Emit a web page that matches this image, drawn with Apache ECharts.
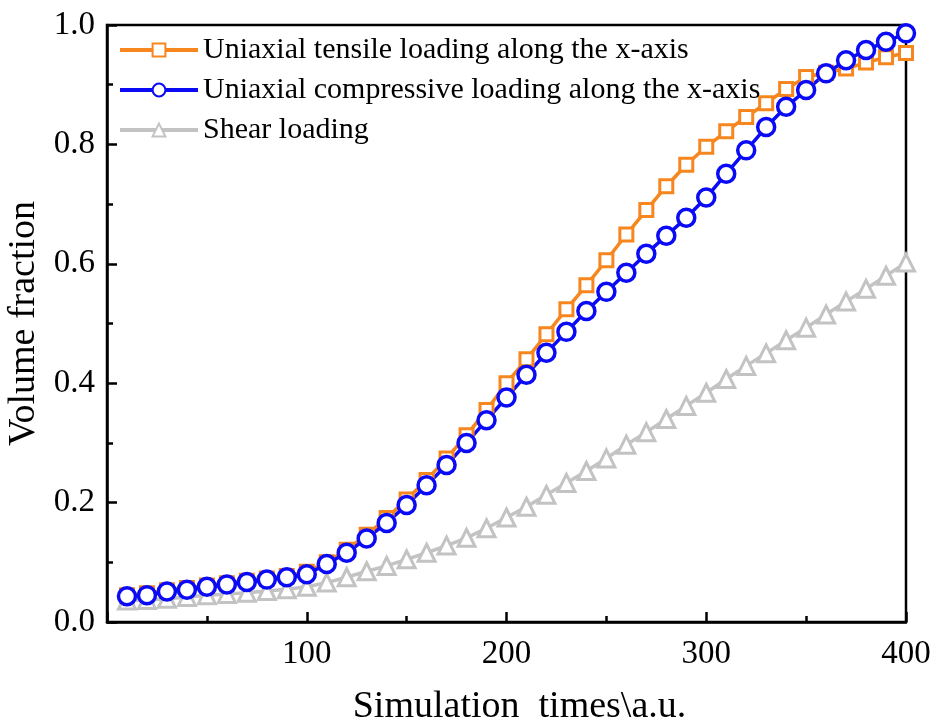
<!DOCTYPE html>
<html>
<head>
<meta charset="utf-8">
<script src="https://cdn.jsdelivr.net/npm/echarts@6/dist/echarts.min.js"></script>
<style>
  html, body { margin: 0; padding: 0; background: #fff; }
  #main { width: 937px; height: 722px; }
</style>
</head>
<body>
<div id="main"></div>
<script>
// simulation times (x), step 10
var times = [10, 20, 30, 40, 50, 60, 70, 80, 90, 100,
             110, 120, 130, 140, 150, 160, 170, 180, 190, 200,
             210, 220, 230, 240, 250, 260, 270, 280, 290, 300,
             310, 320, 330, 340, 350, 360, 370, 380, 390, 400];

// volume fraction
var tensile = [0.045, 0.048, 0.053, 0.057, 0.061, 0.065, 0.069, 0.073, 0.077, 0.084,
               0.100, 0.121, 0.146, 0.174, 0.205, 0.238, 0.274, 0.313, 0.355, 0.400,
               0.440, 0.482, 0.524, 0.564, 0.606, 0.649, 0.690, 0.730, 0.766, 0.796,
               0.822, 0.846, 0.869, 0.893, 0.913, 0.920, 0.927, 0.937, 0.946, 0.953];
var compressive = [0.043, 0.045, 0.051, 0.054, 0.059, 0.063, 0.067, 0.071, 0.075, 0.080,
                   0.097, 0.116, 0.140, 0.166, 0.196, 0.229, 0.263, 0.300, 0.338, 0.376,
                   0.414, 0.451, 0.486, 0.521, 0.553, 0.585, 0.617, 0.647, 0.677, 0.711,
                   0.751, 0.790, 0.829, 0.863, 0.891, 0.919, 0.941, 0.958, 0.972, 0.986];
var shear = [0.036, 0.037, 0.039, 0.042, 0.045, 0.047, 0.049, 0.052, 0.055, 0.059,
             0.066, 0.075, 0.085, 0.094, 0.105, 0.116, 0.128, 0.141, 0.157, 0.175,
             0.193, 0.213, 0.233, 0.253, 0.274, 0.297, 0.318, 0.340, 0.362, 0.384,
             0.407, 0.429, 0.450, 0.472, 0.493, 0.515, 0.537, 0.558, 0.580, 0.602];

var seriesNames = ['Uniaxial tensile loading along the x-axis',
                   'Uniaxial compressive loading along the x-axis',
                   'Shear loading'];

function pairs(ys) {
    var out = [];
    for (var i = 0; i < times.length; i++) out.push([times[i], ys[i]]);
    return out;
}

var font = '"Liberation Serif", "Times New Roman", serif';
var myChart = echarts.init(document.getElementById('main'));

function makeSeries(name, ys, color, symbol, size, bw) {
    return {
        name: name,
        type: 'line',
        data: pairs(ys),
        symbol: symbol,
        symbolSize: size,
        showAllSymbol: true,
        lineStyle: { color: color, width: 3.5 },
        itemStyle: { color: '#fff', borderColor: color, borderWidth: bw },
        emphasis: { disabled: true },
        animation: false
    };
}

var option = {
    backgroundColor: '#fff',
    grid: {
        left: 107, right: 31, top: 25, bottom: 100,
        outerBoundsMode: 'none',
        show: true, borderColor: '#000', borderWidth: 2.5, backgroundColor: 'transparent'
    },
    legend: {
        orient: 'vertical',
        left: 113, top: 30,
        itemWidth: 78, itemHeight: 16, itemGap: 10,
        lineStyle: { width: 4 },
        textStyle: { fontFamily: font, fontSize: 30, color: '#000' },
        data: seriesNames
    },
    xAxis: {
        type: 'value',
        min: 0, max: 400, interval: 100,
        name: 'Simulation  times\\a.u.',
        nameLocation: 'middle', nameGap: 66,
        nameTextStyle: { fontFamily: font, fontSize: 38, color: '#000', padding: [0, 0, 0, 26] },
        axisLine: { lineStyle: { color: '#000', width: 2.5 } },
        axisTick: { inside: true, length: 10, lineStyle: { color: '#000', width: 2.5 } },
        minorTick: { show: true, splitNumber: 2, length: 6, lineStyle: { color: '#000', width: 2.5 } },
        axisLabel: { showMinLabel: false, margin: 16, fontFamily: font, fontSize: 33, color: '#000' },
        splitLine: { show: false }
    },
    yAxis: {
        type: 'value',
        min: 0, max: 1, interval: 0.2,
        name: 'Volume fraction',
        nameLocation: 'middle', nameGap: 56,
        nameTextStyle: { fontFamily: font, fontSize: 38, color: '#000' },
        axisLine: { lineStyle: { color: '#000', width: 2.5 } },
        axisTick: { inside: true, length: 10, lineStyle: { color: '#000', width: 2.5 } },
        minorTick: { show: true, splitNumber: 2, length: 6, lineStyle: { color: '#000', width: 2.5 } },
        axisLabel: {
            margin: 12, fontFamily: font, fontSize: 33, color: '#000',
            formatter: function (v) { return v.toFixed(1); }
        },
        splitLine: { show: false }
    },
    series: [
        makeSeries(seriesNames[2], shear, '#c3c3c3', 'triangle', 17, 3),
        makeSeries(seriesNames[0], tensile, '#f7861e', 'rect', 13, 3),
        makeSeries(seriesNames[1], compressive, '#0a0af5', 'circle', 17, 3.5)
    ]
};
myChart.setOption(option);
</script>
</body>
</html>
